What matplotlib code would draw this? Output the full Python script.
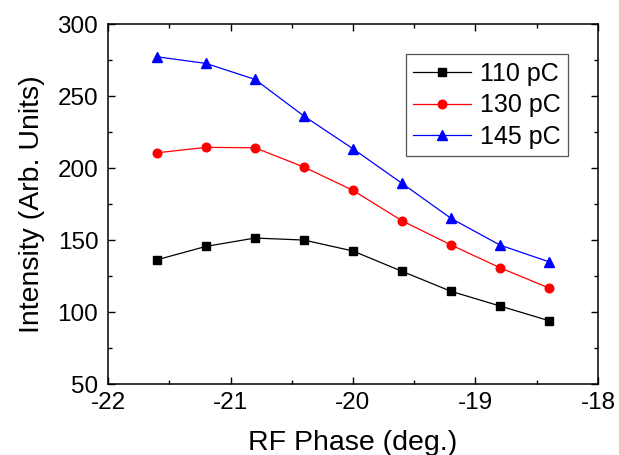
import matplotlib.pyplot as plt
from matplotlib.ticker import MultipleLocator

phase = [-21.6, -21.2, -20.8, -20.4, -20.0, -19.6, -19.2, -18.8, -18.4]
pc110 = [136.3, 145.6, 151.4, 150.0, 142.4, 128.3, 114.4, 104.2, 94.0]
pc130 = [210.6, 214.4, 214.1, 200.7, 184.5, 163.4, 146.6, 130.8, 116.7]
pc145 = [277.3, 272.7, 261.6, 236.1, 213.4, 189.4, 165.1, 146.5, 134.9]

plt.rcParams['font.family'] = ['Liberation Sans', 'DejaVu Sans']
plt.rcParams['axes.unicode_minus'] = False

fig = plt.figure(figsize=(6.19, 4.55), dpi=100)
ax = fig.add_axes([0.1745, 0.156, 0.7915, 0.791])

ax.plot(phase, pc110, '-s', color='black', lw=0.9, ms=5.2, label='110 pC')
ax.plot(phase, pc130, '-o', color='#ff0000', lw=0.9, ms=6.2, label='130 pC')
ax.plot(phase, pc145, '-^', color='#0000ff', lw=0.9, ms=7, label='145 pC')

ax.set_xlim(-22, -18)
ax.set_ylim(50, 300)
ax.xaxis.set_major_locator(MultipleLocator(1))
ax.xaxis.set_minor_locator(MultipleLocator(0.5))
ax.yaxis.set_major_locator(MultipleLocator(50))
ax.yaxis.set_minor_locator(MultipleLocator(25))
ax.tick_params(which='both', direction='in', top=True, right=True, labelsize=17.5, width=1)
ax.tick_params(which='major', length=5)
ax.tick_params(which='minor', length=3)
ax.tick_params(axis='x', pad=6)
ax.tick_params(axis='y', pad=7)
for s in ax.spines.values():
    s.set_linewidth(1.1)

ax.set_xlabel('RF Phase (deg.)', fontsize=20.5, labelpad=11)
ax.set_ylabel('Intensity (Arb. Units)', fontsize=20.5, labelpad=9)

leg = ax.legend(loc='upper left', bbox_to_anchor=(0.608, 0.916), fontsize=18,
                fancybox=False, edgecolor='#555555', framealpha=1,
                handlelength=2.3, handletextpad=0.35, borderpad=0.3,
                labelspacing=0.3, borderaxespad=0)
leg.get_frame().set_linewidth(0.9)

fig.savefig('out.png', dpi=100)
